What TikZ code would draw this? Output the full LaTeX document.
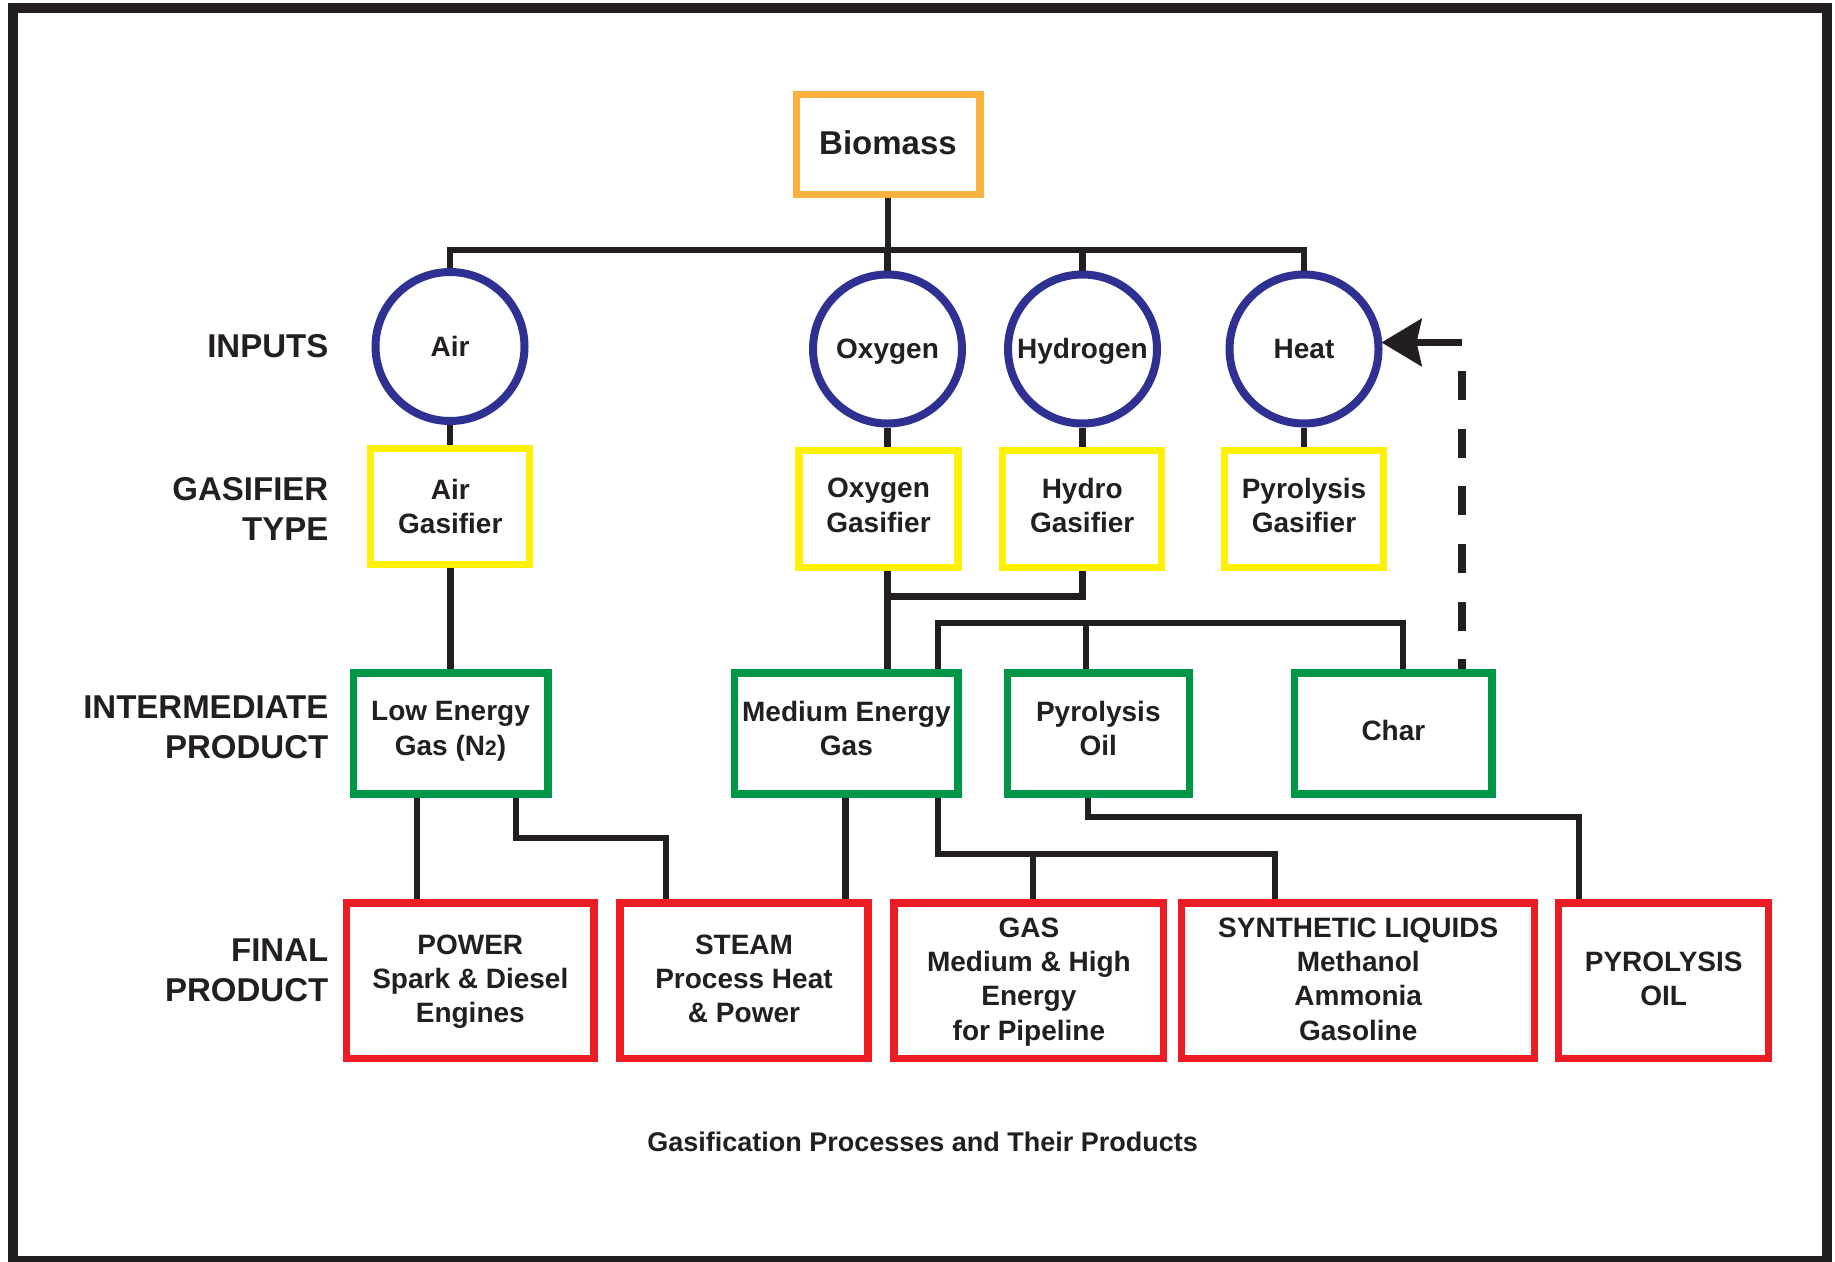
\documentclass[tikz,border=0pt]{standalone}
\usepackage{fontspec}
\setmainfont{Liberation Sans}
\usetikzlibrary{arrows.meta}
\definecolor{cOrange}{RGB}{251,176,64}
\definecolor{cBlue}{RGB}{46,49,146}
\definecolor{cYellow}{RGB}{255,242,0}
\definecolor{cGreen}{RGB}{0,150,72}
\definecolor{cRed}{RGB}{237,28,36}
\definecolor{cInk}{RGB}{35,31,32}
\newcommand\gbxfont{\bfseries\fontsize{28}{34.3}\selectfont}
\newcommand\gbigfont{\bfseries\fontsize{33}{40}\selectfont}
\newcommand\gtitlefont{\bfseries\fontsize{27}{32}\selectfont}
\newcommand\gstrutfull{\rule[-10.3pt]{0pt}{34.3pt}}
\newcommand\gstruthalf{\rule[-8pt]{0pt}{32pt}}
\newcommand\gstrutbig{\rule[-9pt]{0pt}{37pt}}
\begin{document}
\begin{tikzpicture}[x=1pt,y=-1pt,
  box/.style={draw, line width=7.3pt, fill=white, inner sep=0pt, align=center, font=\gbxfont, text=cInk},
  fstruts/.style={execute at begin node=\gstrutfull, execute at end node=\gstrutfull},
  hstruts/.style={execute at begin node=\gstruthalf, execute at end node=\gstruthalf},
  biobox/.style={box, draw=cOrange, font=\gbigfont, minimum width=183.7pt, minimum height=100pt,
    execute at begin node=\gstrutbig, execute at end node=\gstrutbig},
  gasbox/.style={box, draw=cYellow, minimum width=159pt, minimum height=117pt},
  midbox/.style={box, fstruts, draw=cGreen, minimum height=121pt},
  finbox/.style={box, draw=cRed, minimum height=155.7pt, text depth=0pt},
  lines2/.style={text height=49.8pt},
  lines3/.style={text height=84.1pt},
  lines4/.style={text height=118.4pt},
  inp/.style={circle, draw=cBlue, line width=8pt, fill=white, minimum size=149pt, inner sep=0pt, font=\gbxfont, text=cInk, text height=19pt, text depth=0pt},
  lbl/.style={anchor=east, align=right, font=\gbigfont, text=cInk, inner sep=0pt},
  conn/.style={draw=cInk, line width=6.7pt},
  fb/.style={draw=cInk, line width=7.6pt},
]
\useasboundingbox (0,0) rectangle (1835,1261);
\fill[white] (0,0) rectangle (1835,1261);
\draw[cInk, line width=10pt] (12.5,8) rectangle (1827,1261);

% left labels
\node[lbl] (lInputs) at (328.5,346.5) {INPUTS};
\node[lbl] (lGasif) at (328.5,509) {GASIFIER\\TYPE};
\node[lbl] (lInter) at (328.5,727) {INTERMEDIATE\\PRODUCT};
\node[lbl] (lFinal) at (328.5,970.5) {FINAL\\PRODUCT};

% top
\node[biobox] (bio) at (888,144.7) {Biomass};

% inputs
\node[inp] (air) at (450,346.5) {Air};
\node[inp] (oxy) at (887.5,349) {Oxygen};
\node[inp] (hyd) at (1082.5,349) {Hydrogen};
\node[inp] (heat) at (1304,349) {Heat};

% gasifiers
\node[gasbox, minimum height=116pt] (airg) at (450.3,506.5) {Air\\Gasifier};
\node[gasbox, hstruts] (oxyg) at (878.5,509.3) {Oxygen\\Gasifier};
\node[gasbox, hstruts] (hydg) at (1082.2,509.3) {Hydro\\Gasifier};
\node[gasbox, hstruts] (pyrg) at (1304,509.3) {Pyrolysis\\Gasifier};

% intermediate
\node[midbox, minimum width=194.7pt] (lowg) at (450.5,733.5) {Low Energy\\Gas (N{\fontsize{21}{21}\selectfont 2})};
\node[midbox, minimum width=223.4pt] (medg) at (846.4,733.5) {Medium Energy\\Gas};
\node[midbox, minimum width=181.8pt] (oil) at (1098.3,733.5) {Pyrolysis\\Oil};
\node[midbox, minimum width=197.4pt] (char) at (1393.4,733.5) {Char};

% final
\node[finbox, lines3, minimum width=247.3pt] (power) at (470.3,980.8) {POWER\\Spark \& Diesel\\Engines};
\node[finbox, lines3, minimum width=248.2pt] (steam) at (744,980.8) {STEAM\\Process Heat\\\& Power};
\node[finbox, lines4, minimum width=269.8pt] (gas) at (1028.9,980.8) {GAS\\Medium \& High\\Energy\\for Pipeline};
\node[finbox, lines4, minimum width=353.1pt] (synth) at (1358.2,980.8) {SYNTHETIC LIQUIDS\\Methanol\\Ammonia\\Gasoline};
\node[finbox, lines2, minimum width=210pt] (pyro) at (1663.7,980.8) {PYROLYSIS\\OIL};

% caption
\node[font=\gtitlefont, text=cInk, anchor=base, inner sep=0pt] (title) at (922.6,1151.5) {Gasification Processes and Their Products};

% helper coordinates
\coordinate (busy) at (0,250);
\coordinate (j1) at (887.5,596.5);
\coordinate (pb1) at (938,623);
\coordinate (pb2) at (1403,623);
\coordinate (pbo) at (1086,623);
\coordinate (c417) at (417,0);
\coordinate (sA) at (516,838);
\coordinate (sB) at (666,838);
\coordinate (mS) at (845.5,0);
\coordinate (gA) at (938,854);
\coordinate (gB) at (1275,854);
\coordinate (gC) at (1033,854);
\coordinate (oA) at (1088,817);
\coordinate (oB) at (1579,817);
\coordinate (dA) at (1462,342.5);

% biomass bus
\draw[conn] (bio.south) -- (bio.south |- busy);
\draw[conn] (air.north) -- (air.north |- busy) -- (heat.north |- busy) -- (heat.north);
\draw[conn] (oxy.north) -- (oxy.north |- busy);
\draw[conn] (hyd.north) -- (hyd.north |- busy);

% inputs to gasifiers
\draw[conn] (air.south) -- (airg.north -| air.south);
\draw[conn] (oxy.south) -- (oxyg.north -| oxy.south);
\draw[conn] (hyd.south) -- (hydg.north -| hyd.south);
\draw[conn] (heat.south) -- (pyrg.north -| heat.south);

% gasifiers to intermediate
\draw[conn] (airg.south) -- (lowg.north -| airg.south);
\draw[conn] (oxyg.south -| j1) -- (medg.north -| j1);
\draw[conn] (hydg.south -| hyd.south) |- (j1);
\draw[conn] (medg.north -| pb1) -- (pb1) -- (pb2) -- (char.north -| pb2);
\draw[conn] (pyrg.south -| heat.south) -- (pyrg.south -| heat.south |- pb1);
\draw[conn] (pbo) -- (oil.north -| pbo);

% feedback
\draw[fb, dash pattern=on 29pt off 28.6pt, dash phase=29pt] (dA) -- (char.north -| dA);
\draw[fb, -{Stealth[length=40pt, width=47pt, inset=5pt]}, shorten >=-1pt] (dA) -- (dA -| heat.east);

% intermediate to final
\draw[conn] (lowg.south -| c417) -- (power.north -| c417);
\draw[conn] (lowg.south -| sA) -- (sA) -- (sB) -- (steam.north -| sB);
\draw[conn] (medg.south -| mS) -- (steam.north -| mS);
\draw[conn] (medg.south -| gA) -- (gA) -- (gB) -- (synth.north -| gB);
\draw[conn] (gC) -- (gas.north -| gC);
\draw[conn] (oil.south -| oA) -- (oA) -- (oB) -- (pyro.north -| oB);
\end{tikzpicture}
\end{document}
